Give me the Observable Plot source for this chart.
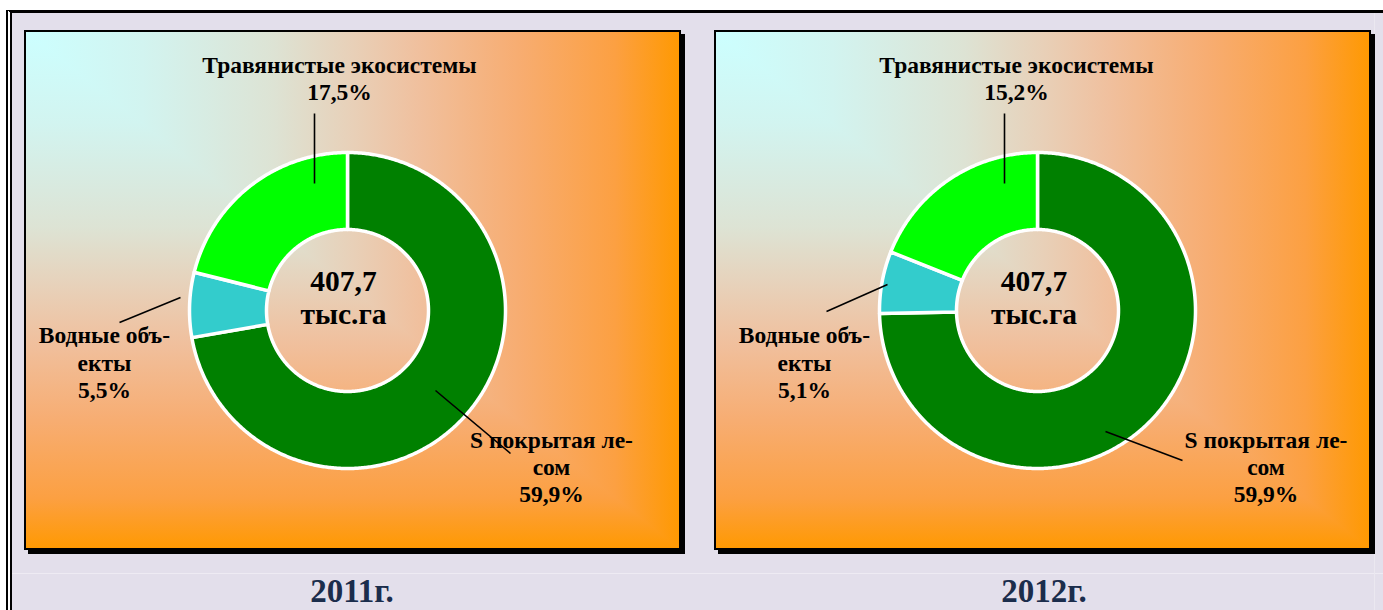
<!DOCTYPE html>
<html>
<head>
<meta charset="utf-8">
<script src="https://cdn.jsdelivr.net/npm/d3@7"></script>
<script src="https://cdn.jsdelivr.net/npm/@observablehq/plot@0.6"></script>
<style>
  html, body { margin: 0; padding: 0; background: #ffffff; }
  body { width: 1383px; height: 610px; position: relative; overflow: hidden; font-family: "Liberation Serif", serif; }
  #frame { position: absolute; left: 6px; top: 10px; width: 1377px; height: 600px; box-sizing: border-box;
    border-top: 3px solid #000; border-left: 6px double #000; background: #E3DFEB; background-clip: padding-box; }
  #hline { position: absolute; left: 12px; top: 573px; width: 1371px; height: 1px; background: #EEEBF3; }
  #vline { position: absolute; left: 1374px; top: 13px; width: 1px; height: 597px; background: #EBE8F0; }
  .panel { position: absolute; top: 30px; width: 657px; height: 520px; box-shadow: 4px 4px 0 #000; overflow: visible; }
  .bgH, .bgV { position: absolute; left: 0; top: 0; width: 100%; height: 100%; }
  .bgV { clip-path: polygon(0 0, 0 100%, 100% 100%); }
  .panel svg { position: absolute; left: 0; top: 0; }
  .border { position: absolute; left: 0; top: 0; width: 100%; height: 100%; box-sizing: border-box; border: 2px solid #000; pointer-events: none; }
  .year { position: absolute; top: 575px; width: 300px; text-align: center; font-family: "Liberation Serif", serif;
    font-weight: bold; font-size: 33px; line-height: 33px; color: #1B2D4C; }
</style>
</head>
<body>
<div id="frame"></div>
<div id="hline"></div>
<div id="vline"></div>
<script>
// ---- data ----
const categories = ["S покрытая лесом", "Водные объекты", "Травянистые экосистемы"];
const labelText = ["S покрытая ле-\nсом", "Водные объ-\nекты", "Травянистые экосистемы"];
const values2011 = [59.9, 5.5, 17.5];
const values2012 = [59.9, 5.1, 15.2];
const years = ["2011г.", "2012г."];
const totals = ["407,7", "407,7"];
const totalUnit = "тыс.га";
const sliceColors = ["#008000", "#33CCCC", "#00FF00"];

// ---- layout (pixels relative to the donut centre) ----
const W = 657, H = 520, CX = 323, CY = 280, R_OUT = 158, R_IN = 81;
const panelLeft = [24, 714];
const yearCenter = [352, 1044];
const leaderLayout = [
  [[88, 80, 163, 143], [-228, 12, -167, -13], [-33, -197, -33, -127]],
  [[68, 121, 145, 150], [-211, 1, -150, -26], [-33, -197, -33, -127]]
];
const labelLayout = [
  [[204, 155.7], [-243, 51.2], [-8, -233]],
  [[228.5, 155.7], [-233, 51.2], [-21, -233]]
];
const centerLayout = [[-4, -14], [-3.5, -14]];

const gradStops = "#CCFFFF 0%, #D2F4F0 18%, #DDE3D4 38%, #E8D0B8 50%, #F0C09E 60%, #F7AD72 75%, #FCA042 90%, #FF9900 100%";

function fmt(v) { return v.toFixed(1).replace(".", ",") + "%"; }

function makePanel(values, idx) {
  const rows = categories.map((c, i) => ({category: c, value: values[i], i}));
  const arcs = d3.pie().sort(null).value(d => d.value).startAngle(0).endAngle(2 * Math.PI)(rows);
  const pts = [];
  for (const a of arcs) {
    const n = Math.max(2, Math.ceil((a.endAngle - a.startAngle) / (Math.PI / 360)));
    for (let k = 0; k <= n; k++) {
      const t = a.startAngle + (a.endAngle - a.startAngle) * k / n;
      pts.push({category: a.data.category, x: R_OUT * Math.sin(t), y: -R_OUT * Math.cos(t)});
    }
    for (let k = n; k >= 0; k--) {
      const t = a.startAngle + (a.endAngle - a.startAngle) * k / n;
      pts.push({category: a.data.category, x: R_IN * Math.sin(t), y: -R_IN * Math.cos(t)});
    }
  }
  const leaders = rows.map((r, i) => {
    const L = leaderLayout[idx][i];
    return {x1: L[0], y1: L[1], x2: L[2], y2: L[3]};
  });
  const labels = rows.map((r, i) => ({
    x: labelLayout[idx][i][0], y: labelLayout[idx][i][1],
    text: labelText[i] + "\n" + fmt(r.value)
  }));
  const center = [{x: centerLayout[idx][0], y: centerLayout[idx][1], text: totals[idx] + "\n" + totalUnit}];

  const plot = Plot.plot({
    width: W, height: H, margin: 0,
    style: {background: "transparent", overflow: "visible"},
    x: {domain: [-CX, W - CX], range: [0, W], axis: null},
    y: {domain: [-CY, H - CY], range: [0, H], axis: null},
    color: {domain: categories, range: sliceColors},
    marks: [
      Plot.line(pts, {x: "x", y: "y", z: "category", fill: "category", stroke: "white", strokeWidth: 3.5, curve: "linear-closed"}),
      Plot.link(leaders, {x1: "x1", y1: "y1", x2: "x2", y2: "y2", stroke: "black", strokeWidth: 1.6}),
      Plot.text(labels, {x: "x", y: "y", text: "text", fontSize: 23.5, fontWeight: "bold", fontFamily: "Liberation Serif", lineHeight: 27.5 / 23.5, fill: "black", textAnchor: "middle"}),
      Plot.text(center, {x: "x", y: "y", text: "text", fontSize: 29.5, fontWeight: "bold", fontFamily: "Liberation Serif", lineHeight: 33 / 29.5, fill: "black", textAnchor: "middle"})
    ]
  });

  const panel = document.createElement("div");
  panel.className = "panel";
  panel.style.left = panelLeft[idx] + "px";
  const bgH = document.createElement("div");
  bgH.className = "bgH";
  bgH.style.background = `linear-gradient(to right, ${gradStops})`;
  const bgV = document.createElement("div");
  bgV.className = "bgV";
  bgV.style.background = `linear-gradient(to bottom, ${gradStops})`;
  const border = document.createElement("div");
  border.className = "border";
  panel.append(bgH, bgV, plot, border);
  document.body.appendChild(panel);

  const yl = document.createElement("div");
  yl.className = "year";
  yl.style.left = (yearCenter[idx] - 150) + "px";
  yl.textContent = years[idx];
  document.body.appendChild(yl);
}

makePanel(values2011, 0);
makePanel(values2012, 1);
</script>
</body>
</html>
